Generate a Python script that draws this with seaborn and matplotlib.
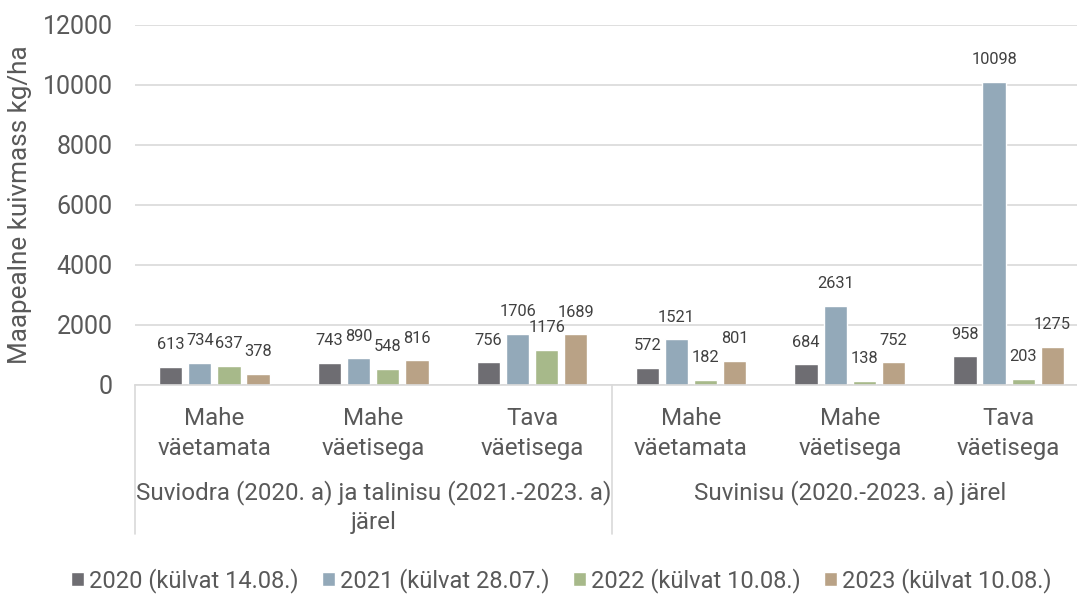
import pandas as pd
import matplotlib.pyplot as plt
import seaborn as sns

# Chart data
categories = ['Mahe\nväetamata', 'Mahe\nväetisega', 'Tava\nväetisega',
              'Mahe\nväetamata ', 'Mahe\nväetisega ', 'Tava\nväetisega ']
groups = ['Suviodra (2020. a) ja talinisu (2021.-2023. a)\njärel',
          'Suvinisu (2020.-2023. a) järel']
series = ['2020 (külvat 14.08.)', '2021 (külvat 28.07.)',
          '2022 (külvat 10.08.)', '2023 (külvat 10.08.)']
v2020 = [613, 743, 756, 572, 684, 958]
v2021 = [734, 890, 1706, 1521, 2631, 10098]
v2022 = [637, 548, 1176, 182, 138, 203]
v2023 = [378, 816, 1689, 801, 752, 1275]

colors = ['#6e6d72', '#93a9b9', '#a7b98a', '#b9a286']
text_col = '#595959'

rows = []
for s, vals in zip(series, [v2020, v2021, v2022, v2023]):
    for c, v in zip(categories, vals):
        rows.append({'cat': c, 'year': s, 'value': v})
df = pd.DataFrame(rows)

sns.set_theme(style='white')
plt.rcParams['font.family'] = ['Roboto', 'DejaVu Sans']

fig = plt.figure(figsize=(10.77, 5.95), dpi=100)
# plot area runs a little past the right edge, like the original
ax = fig.add_axes([0.1253, 0.353, 0.885, 0.605])

sns.barplot(data=df, x='cat', y='value', hue='year', order=categories,
            hue_order=series, palette=colors, width=0.733, gap=0.2,
            saturation=1, ax=ax, legend=True)

for cont in ax.containers:
    ax.bar_label(cont, padding=10.5, fontsize=11.8, color='#404040')

ax.set_ylim(0, 12000)
ax.set_xlim(-0.5, 5.5)
ax.set_yticks(range(0, 12001, 2000))
ax.yaxis.grid(True, color='#d9d9d9', linewidth=1.2)
ax.set_axisbelow(True)
for sp in ['left', 'right', 'top']:
    ax.spines[sp].set_visible(False)
ax.spines['bottom'].set_color('#d9d9d9')
ax.spines['bottom'].set_linewidth(1.2)

ax.tick_params(axis='y', length=0, pad=16, labelsize=18, labelcolor=text_col)
ax.tick_params(axis='x', length=0, pad=16, labelsize=17.4, labelcolor=text_col)
ax.set_xticks(range(len(categories)))
ax.set_xticklabels([c.strip() for c in categories], linespacing=1.38)
ax.set_xlabel('')
ax.set_ylabel('Maapealne kuivmass kg/ha', fontsize=18.8, color=text_col, labelpad=8)

# group labels and separators below the axis
trans = ax.get_xaxis_transform()
ax.text(1, -0.265, groups[0], transform=trans, ha='center', va='top',
        fontsize=17.4, color=text_col, linespacing=1.3)
ax.text(4, -0.265, groups[1], transform=trans, ha='center', va='top',
        fontsize=17.4, color=text_col)
for xpos in [-0.5, 2.5, 5.5]:
    ax.plot([xpos, xpos], [0, -0.415], transform=trans, color='#d9d9d9',
            linewidth=1.2, clip_on=False)

handles, labels = ax.get_legend_handles_labels()
ax.legend_.remove()
fig.legend(handles, labels, loc='center', bbox_to_anchor=(0.521, 0.025),
           ncol=4, frameon=False, fontsize=17, labelcolor=text_col,
           handlelength=0.55, handleheight=0.55, handletextpad=0.2,
           columnspacing=1.0)

fig.savefig('out.png', dpi=100)
